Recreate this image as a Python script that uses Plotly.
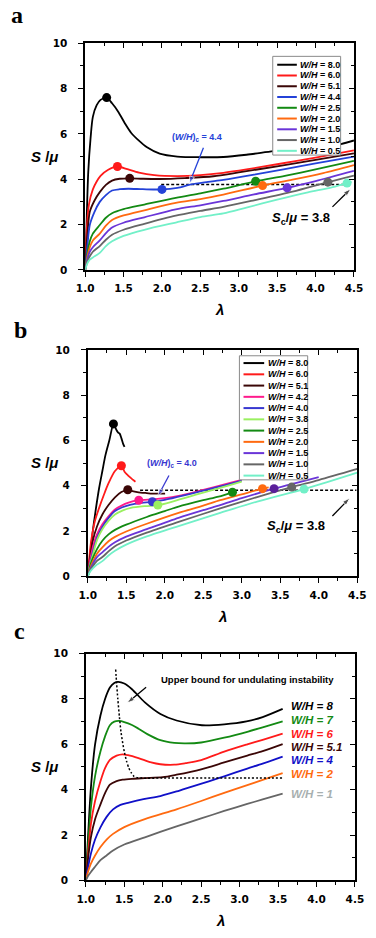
import plotly.graph_objects as go

W, H = 376, 938
FONT = "Liberation Sans, Arial, sans-serif"
TICK_FONT = "DejaVu Sans, sans-serif"
SERIF = "Liberation Serif, Times New Roman, serif"

# ---------------- panel a ----------------
A_LAM_80 = [1.00, 1.02, 1.04, 1.07, 1.10, 1.15, 1.20, 1.28, 1.35, 1.43, 1.52, 1.60, 1.70, 1.80, 1.97, 2.20, 2.50, 2.80, 3.10, 3.45, 3.80, 4.10, 4.33, 4.50]
A_S_80 = [0.05, 2.3, 4.3, 5.8, 6.75, 7.27, 7.5, 7.6, 7.35, 6.98, 6.45, 6.04, 5.7, 5.42, 5.13, 5.0, 4.97, 4.98, 5.08, 5.24, 5.37, 5.47, 5.55, 5.71]
A_LAM_60 = [1.00, 1.02, 1.05, 1.10, 1.15, 1.20, 1.30, 1.42, 1.55, 1.70, 1.90, 2.20, 2.50, 2.80, 3.10, 3.50, 4.00, 4.50]
A_S_60 = [0.0, 1.8, 2.9, 3.55, 3.9, 4.15, 4.42, 4.56, 4.44, 4.29, 4.18, 4.14, 4.18, 4.28, 4.43, 4.66, 4.95, 5.27]
A_LAM_51 = [1.00, 1.03, 1.06, 1.12, 1.19, 1.27, 1.35, 1.45, 1.58, 1.75, 1.97, 2.30, 2.67, 3.00, 3.50, 4.00, 4.50]
A_S_51 = [0.0, 1.6, 2.56, 3.05, 3.43, 3.75, 3.94, 4.02, 4.04, 4.02, 4.01, 4.05, 4.13, 4.3, 4.57, 4.85, 5.14]
A_LAM_44 = [1.00, 1.03, 1.06, 1.12, 1.19, 1.27, 1.35, 1.45, 1.56, 1.75, 2.00, 2.20, 2.38, 2.60, 2.80, 3.20, 3.60, 4.00, 4.50]
A_S_44 = [0.0, 1.1, 1.98, 2.55, 3.0, 3.3, 3.5, 3.56, 3.58, 3.56, 3.55, 3.62, 3.77, 3.88, 3.97, 4.2, 4.45, 4.7, 5.0]
A_LAM_25 = [1.00, 1.03, 1.06, 1.10, 1.19, 1.27, 1.35, 1.50, 1.77, 2.18, 2.50, 2.80, 3.22, 3.60, 4.00, 4.50]
A_S_25 = [0.0, 0.75, 1.26, 1.6, 1.98, 2.3, 2.5, 2.68, 2.88, 3.18, 3.38, 3.58, 3.91, 4.15, 4.43, 4.81]
A_LAM_20 = [1.00, 1.03, 1.06, 1.10, 1.19, 1.27, 1.35, 1.50, 1.77, 2.18, 2.50, 2.80, 3.31, 3.70, 4.10, 4.50]
A_S_20 = [0.0, 0.6, 1.0, 1.3, 1.6, 1.95, 2.2, 2.4, 2.63, 2.96, 3.12, 3.32, 3.72, 3.98, 4.27, 4.62]
A_LAM_15 = [1.00, 1.03, 1.06, 1.10, 1.19, 1.27, 1.35, 1.50, 1.77, 2.18, 2.50, 2.80, 3.20, 3.63, 4.00, 4.50]
A_S_15 = [0.0, 0.5, 0.8, 1.0, 1.3, 1.62, 1.87, 2.08, 2.32, 2.67, 2.85, 3.04, 3.33, 3.62, 3.92, 4.37]
A_LAM_10 = [1.00, 1.03, 1.06, 1.10, 1.19, 1.27, 1.35, 1.50, 1.77, 2.18, 2.50, 2.80, 3.20, 3.70, 4.16, 4.50]
A_S_10 = [0.0, 0.4, 0.6, 0.8, 1.05, 1.33, 1.55, 1.77, 2.03, 2.39, 2.6, 2.78, 3.07, 3.45, 3.87, 4.16]
A_LAM_05 = [1.00, 1.03, 1.06, 1.10, 1.19, 1.27, 1.35, 1.50, 1.77, 2.18, 2.50, 2.80, 3.10, 3.50, 3.90, 4.20, 4.41, 4.47]
A_S_05 = [0.0, 0.3, 0.45, 0.55, 0.75, 1.05, 1.26, 1.5, 1.77, 2.09, 2.33, 2.49, 2.75, 3.1, 3.42, 3.63, 3.83, 3.88]

A_LABELS = ["8.0", "6.0", "5.1", "4.4", "2.5", "2.0", "1.5", "1.0", "0.5"]
A_COLORS = ["#000000", "#ff1a1a", "#3a0606", "#2442d8", "#138a13", "#ff6a10", "#6a35d8", "#666666", "#72f0c8"]
A_LAM = [A_LAM_80, A_LAM_60, A_LAM_51, A_LAM_44, A_LAM_25, A_LAM_20, A_LAM_15, A_LAM_10, A_LAM_05]
A_S = [A_S_80, A_S_60, A_S_51, A_S_44, A_S_25, A_S_20, A_S_15, A_S_10, A_S_05]
A_DOT_LAM = [1.28, 1.42, 1.58, 2.0, 3.22, 3.31, 3.63, 4.16, 4.41]
A_DOT_S = [7.6, 4.56, 4.04, 3.55, 3.91, 3.72, 3.62, 3.87, 3.83]
A_CRIT_LAM = [1.99, 4.45]
A_CRIT_S = [3.77, 3.77]

# ---------------- panel b ----------------
B_LAM_80 = [1.0, 1.03, 1.066, 1.10, 1.148, 1.19, 1.23, 1.28, 1.334, 1.355, 1.375, 1.395, 1.415, 1.437, 1.46, 1.478]
B_S_80 = [0.0, 0.9, 2.0, 2.85, 3.9, 4.65, 5.35, 6.0, 6.73, 6.6, 6.45, 6.35, 6.3, 6.1, 5.85, 5.71]
B_LAM_60 = [1.0, 1.02, 1.045, 1.09, 1.148, 1.21, 1.27, 1.354, 1.437, 1.478, 1.51, 1.54, 1.58, 1.62]
B_S_60 = [0.0, 0.8, 1.57, 2.4, 3.02, 3.6, 4.11, 4.65, 4.88, 4.62, 4.5, 4.4, 4.28, 4.18]
B_LAM_51 = [1.0, 1.03, 1.066, 1.12, 1.19, 1.27, 1.354, 1.437, 1.52, 1.58, 1.643, 1.75, 1.85, 2.005]
B_S_51 = [0.0, 0.8, 1.57, 2.2, 2.73, 3.15, 3.49, 3.72, 3.82, 3.76, 3.72, 3.68, 3.65, 3.65]
B_LAM_42 = [1.0, 1.03, 1.066, 1.12, 1.19, 1.27, 1.354, 1.44, 1.52, 1.663, 1.85, 2.0, 2.18, 2.5, 2.8, 3.0]
B_S_42 = [0.0, 0.7, 1.28, 1.85, 2.3, 2.65, 2.95, 3.12, 3.24, 3.36, 3.4, 3.45, 3.55, 3.82, 4.08, 4.26]
B_LAM_40 = [1.0, 1.03, 1.066, 1.12, 1.19, 1.27, 1.354, 1.45, 1.56, 1.7, 1.84, 2.0, 2.18, 2.5, 2.8, 3.0]
B_S_40 = [0.0, 0.55, 1.05, 1.7, 2.18, 2.58, 2.88, 3.05, 3.17, 3.24, 3.29, 3.38, 3.52, 3.78, 4.04, 4.22]
B_LAM_38 = [1.0, 1.03, 1.066, 1.12, 1.19, 1.27, 1.354, 1.45, 1.56, 1.75, 1.91, 2.1, 2.3, 2.5, 2.8, 3.0]
B_S_38 = [0.0, 0.5, 0.95, 1.6, 2.08, 2.45, 2.73, 2.9, 3.02, 3.1, 3.14, 3.3, 3.5, 3.7, 3.98, 4.18]
B_LAM_25 = [1.0, 1.03, 1.066, 1.12, 1.19, 1.27, 1.354, 1.5, 1.767, 2.0, 2.18, 2.5, 2.7, 2.88]
B_S_25 = [0.0, 0.45, 0.8, 1.2, 1.57, 1.85, 2.05, 2.28, 2.62, 2.88, 3.08, 3.36, 3.52, 3.71]
B_LAM_20 = [1.0, 1.03, 1.066, 1.12, 1.19, 1.27, 1.354, 1.5, 1.767, 2.18, 2.5, 2.72, 3.0, 3.27, 3.35]
B_S_20 = [0.0, 0.35, 0.65, 1.0, 1.28, 1.55, 1.74, 1.98, 2.32, 2.8, 3.12, 3.36, 3.62, 3.87, 3.93]
B_LAM_15 = [1.0, 1.03, 1.066, 1.12, 1.19, 1.27, 1.354, 1.5, 1.767, 2.18, 2.5, 2.72, 3.0, 3.42, 3.7, 4.0]
B_S_15 = [0.0, 0.3, 0.55, 0.85, 1.06, 1.3, 1.5, 1.75, 2.08, 2.58, 2.92, 3.14, 3.45, 3.87, 4.12, 4.38]
B_LAM_10 = [1.0, 1.03, 1.066, 1.12, 1.19, 1.27, 1.354, 1.5, 1.767, 2.18, 2.72, 3.2, 3.65, 4.0, 4.5]
B_S_10 = [0.0, 0.25, 0.45, 0.68, 0.85, 1.1, 1.33, 1.58, 1.93, 2.4, 3.0, 3.5, 3.94, 4.25, 4.74]
B_LAM_05 = [1.0, 1.03, 1.066, 1.12, 1.19, 1.27, 1.354, 1.5, 1.767, 2.18, 2.72, 3.2, 3.81, 4.1, 4.5]
B_S_05 = [0.0, 0.2, 0.35, 0.52, 0.67, 0.92, 1.13, 1.4, 1.76, 2.22, 2.8, 3.3, 3.85, 4.15, 4.58]

B_LABELS = ["8.0", "6.0", "5.1", "4.2", "4.0", "3.8", "2.5", "2.0", "1.5", "1.0", "0.5"]
B_COLORS = ["#000000", "#ff1a1a", "#3a0606", "#ff1a8c", "#3838d0", "#9af060", "#138a13", "#ff6a10", "#6a35d8", "#666666", "#72f0c8"]
B_DOT_COLORS = ["#000000", "#ff1a1a", "#3a0606", "#ff1a8c", "#3838d0", "#9af060", "#138a13", "#ff6a10", "#5a1f9a", "#666666", "#72f0c8"]
B_LAM = [B_LAM_80, B_LAM_60, B_LAM_51, B_LAM_42, B_LAM_40, B_LAM_38, B_LAM_25, B_LAM_20, B_LAM_15, B_LAM_10, B_LAM_05]
B_S = [B_S_80, B_S_60, B_S_51, B_S_42, B_S_40, B_S_38, B_S_25, B_S_20, B_S_15, B_S_10, B_S_05]
B_DOT_LAM = [1.334, 1.437, 1.52, 1.663, 1.84, 1.91, 2.88, 3.27, 3.42, 3.65, 3.81]
B_DOT_S = [6.73, 4.88, 3.82, 3.36, 3.29, 3.15, 3.71, 3.87, 3.87, 3.94, 3.85]
B_CRIT_LAM = [1.68, 4.49]
B_CRIT_S = [3.8, 3.8]

# ---------------- panel c ----------------
C_LAM_8 = [1.0, 1.03, 1.066, 1.12, 1.19, 1.25, 1.313, 1.37, 1.416, 1.5, 1.6, 1.768, 1.97, 2.18, 2.51, 2.8, 3.09, 3.3, 3.56]
C_S_8 = [0.0, 2.0, 4.08, 6.0, 7.27, 8.0, 8.5, 8.7, 8.75, 8.68, 8.43, 7.85, 7.34, 7.05, 6.84, 6.88, 7.01, 7.2, 7.56]
C_LAM_7 = [1.0, 1.03, 1.066, 1.12, 1.19, 1.25, 1.313, 1.37, 1.437, 1.5, 1.6, 1.685, 1.8, 1.97, 2.15, 2.3, 2.5, 2.8, 3.1, 3.3, 3.56]
C_S_7 = [0.0, 1.6, 3.21, 4.6, 5.68, 6.35, 6.84, 7.0, 7.03, 6.98, 6.85, 6.69, 6.45, 6.18, 6.06, 6.04, 6.08, 6.29, 6.55, 6.75, 7.01]
C_LAM_6 = [1.0, 1.03, 1.066, 1.12, 1.19, 1.25, 1.313, 1.4, 1.478, 1.55, 1.685, 1.85, 1.97, 2.15, 2.3, 2.5, 2.8, 3.1, 3.3, 3.56]
C_S_6 = [0.0, 1.2, 2.48, 3.5, 4.37, 4.95, 5.31, 5.5, 5.56, 5.52, 5.39, 5.2, 5.12, 5.1, 5.17, 5.3, 5.68, 6.0, 6.2, 6.47]
C_LAM_51 = [1.0, 1.03, 1.066, 1.12, 1.19, 1.25, 1.313, 1.4, 1.478, 1.6, 1.768, 2.0, 2.18, 2.5, 2.8, 3.1, 3.3, 3.56]
C_S_51 = [0.0, 1.0, 1.9, 2.7, 3.35, 3.85, 4.22, 4.38, 4.44, 4.48, 4.51, 4.55, 4.66, 4.9, 5.2, 5.5, 5.7, 6.01]
C_LAM_4 = [1.0, 1.03, 1.066, 1.12, 1.19, 1.27, 1.354, 1.45, 1.56, 1.75, 1.97, 2.18, 2.39, 2.6, 2.8, 3.1, 3.3, 3.56]
C_S_4 = [0.0, 0.6, 1.18, 1.8, 2.34, 2.8, 3.13, 3.33, 3.43, 3.58, 3.72, 3.92, 4.15, 4.37, 4.59, 4.93, 5.15, 5.46]
C_LAM_2 = [1.0, 1.03, 1.066, 1.12, 1.19, 1.27, 1.354, 1.5, 1.768, 2.18, 2.5, 2.8, 3.1, 3.3, 3.56]
C_S_2 = [0.0, 0.4, 0.74, 1.1, 1.47, 1.8, 2.05, 2.35, 2.7, 3.13, 3.5, 3.86, 4.2, 4.43, 4.73]
C_LAM_1 = [1.0, 1.03, 1.066, 1.12, 1.19, 1.27, 1.354, 1.5, 1.768, 2.18, 2.5, 2.8, 3.1, 3.3, 3.56]
C_S_1 = [0.0, 0.2, 0.37, 0.6, 0.89, 1.1, 1.32, 1.58, 1.9, 2.38, 2.73, 3.06, 3.37, 3.57, 3.83]

C_LABELS = ["8", "7", "6", "5.1", "4", "2", "1"]
C_COLORS = ["#000000", "#138a13", "#ff1a1a", "#3a0606", "#1010c8", "#ff6a10", "#666666"]
C_TEXT_COLORS = ["#000000", "#138a13", "#ff1a1a", "#3a0606", "#1010c8", "#ff6a10", "#a8b0b0"]
C_LAM = [C_LAM_8, C_LAM_7, C_LAM_6, C_LAM_51, C_LAM_4, C_LAM_2, C_LAM_1]
C_S = [C_S_8, C_S_7, C_S_6, C_S_51, C_S_4, C_S_2, C_S_1]
C_LABEL_S = [7.68, 7.08, 6.47, 5.89, 5.31, 4.69, 3.83]
C_BOUND_LAM = [1.388, 1.40, 1.416, 1.437, 1.457, 1.48, 1.50, 1.53, 1.56, 1.59, 1.623, 1.67, 1.726, 2.0, 3.0, 3.58]
C_BOUND_S = [9.3, 8.7, 8.0, 7.2, 6.55, 6.05, 5.68, 5.25, 4.95, 4.75, 4.6, 4.53, 4.51, 4.51, 4.51, 4.51]

X_TICKS = [1.0, 1.5, 2.0, 2.5, 3.0, 3.5, 4.0, 4.5]
Y_TICKS = [0, 2, 4, 6, 8, 10]


def fx(x):
    return x / W


def fy(y):
    return 1 - y / H


fig = go.Figure()

# pixel frames of the three plot areas (left, top, right, bottom)
FRAMES = [(80, 37.7, 362.3, 267.3), (82.7, 348.3, 365.7, 577.7), (80.7, 656, 363.3, 885.7)]

for i, (l, t, r, b) in enumerate(FRAMES):
    n = "" if i == 0 else str(i + 1)
    o = str(i + 4)
    tickfont = dict(family=TICK_FONT, size=10.5, color="black", weight="bold")
    fig.update_layout(**{
        "xaxis" + n: dict(
            domain=[fx(l), fx(r)], anchor="y" + n, range=[1, 4.5],
            tickvals=X_TICKS, ticktext=[f"{v:.1f}" for v in X_TICKS],
            ticks="outside", ticklen=5, tickwidth=1.3, tickcolor="black",
            minor=dict(dtick=0.25, tick0=1, ticks="outside", ticklen=3, tickwidth=1.2, tickcolor="black"),
            showline=True, linewidth=1.5, linecolor="black", mirror=True,
            showgrid=False, zeroline=False, tickfont=tickfont, ticklabelstandoff=3,
        ),
        "yaxis" + n: dict(
            domain=[fy(b), fy(t)], anchor="x" + n, range=[0, 10],
            tickvals=Y_TICKS, ticks="outside", ticklen=5, tickwidth=1.3, tickcolor="black",
            minor=dict(dtick=1, tick0=0, ticks="outside", ticklen=3, tickwidth=1.2, tickcolor="black"),
            showline=True, linewidth=1.5, linecolor="black", mirror=True,
            showgrid=False, zeroline=False, tickfont=tickfont, ticklabelstandoff=9,
        ),
        # inward ticks on the top and right edges
        "xaxis" + o: dict(
            overlaying="x" + n, anchor="y" + n, side="top", range=[1, 4.5],
            tickvals=X_TICKS, ticks="inside", ticklen=5, tickwidth=1.3, tickcolor="black",
            minor=dict(dtick=0.25, tick0=1, ticks="inside", ticklen=3, tickwidth=1.2, tickcolor="black"),
            showticklabels=False, showgrid=False, zeroline=False, showline=False,
        ),
        "yaxis" + o: dict(
            overlaying="y" + n, anchor="x" + n, side="right", range=[0, 10],
            tickvals=Y_TICKS, ticks="inside", ticklen=5, tickwidth=1.3, tickcolor="black",
            minor=dict(dtick=1, tick0=0, ticks="inside", ticklen=3, tickwidth=1.2, tickcolor="black"),
            showticklabels=False, showgrid=False, zeroline=False, showline=False,
        ),
    })
    fig.add_trace(go.Scatter(x=[], y=[], xaxis="x" + o, yaxis="y" + o, showlegend=False))


def add_curves(lams, svals, colors, xa, ya):
    for lam, s, c in zip(lams, svals, colors):
        fig.add_trace(go.Scatter(
            x=lam, y=s, mode="lines", xaxis=xa, yaxis=ya,
            line=dict(color=c, width=1.8, shape="spline", smoothing=0.8),
            showlegend=False, hoverinfo="skip",
        ))


def add_dots(lams, svals, colors, xa, ya):
    fig.add_trace(go.Scatter(
        x=lams, y=svals, mode="markers", xaxis=xa, yaxis=ya,
        marker=dict(color=colors, size=9, line=dict(width=0)),
        showlegend=False, hoverinfo="skip",
    ))


def arrow(xa, ya, x, y, ax, ay, color="black"):
    # shaft from (ax, ay) to the tip (x, y), head drawn as an arrow marker
    fig.add_trace(go.Scatter(
        x=[ax, x], y=[ay, y], mode="lines+markers", xaxis=xa, yaxis=ya,
        line=dict(color=color, width=1.3),
        marker=dict(symbol="arrow", size=[0, 8], angleref="previous", color=color),
        showlegend=False, hoverinfo="skip",
    ))


# panel a
fig.add_trace(go.Scatter(x=A_CRIT_LAM, y=A_CRIT_S, mode="lines", xaxis="x", yaxis="y",
                         line=dict(color="black", width=1.5, dash="3px,2px"), showlegend=False))
add_curves(A_LAM, A_S, A_COLORS, "x", "y")
add_dots(A_DOT_LAM, A_DOT_S, A_COLORS, "x", "y")
arrow("x", "y", 2.355, 3.80, 2.54, 5.39, "#2442d8")
arrow("x", "y", 4.46, 3.58, 4.22, 2.78)

# panel b
fig.add_trace(go.Scatter(x=B_CRIT_LAM, y=B_CRIT_S, mode="lines", xaxis="x2", yaxis="y2",
                         line=dict(color="black", width=1.5, dash="3px,2px"), showlegend=False))
add_curves(B_LAM, B_S, B_COLORS, "x2", "y2")
add_dots(B_DOT_LAM, B_DOT_S, B_DOT_COLORS, "x2", "y2")
arrow("x2", "y2", 1.91, 3.53, 2.055, 4.45, "#3838d0")
arrow("x2", "y2", 4.405, 3.46, 4.178, 2.66)

# panel c
add_curves(C_LAM, C_S, C_COLORS, "x3", "y3")
fig.add_trace(go.Scatter(x=C_BOUND_LAM, y=C_BOUND_S, mode="lines", xaxis="x3", yaxis="y3",
                         line=dict(color="black", width=1.5, dash="2px,2px", shape="spline", smoothing=0.6),
                         showlegend=False))
arrow("x3", "y3", 1.536, 7.82, 1.784, 8.52)

annotations = []
shapes = []


# hand-drawn legends (plotly's own legend rows are too tall for this size)
def add_legend(labels, colors, box, y0, dy, line_x, text_x):
    shapes.append(dict(type="rect", xref="paper", yref="paper",
                       x0=fx(box[0]), x1=fx(box[2]), y0=fy(box[3]), y1=fy(box[1]),
                       line=dict(color="#8a8a8a", width=1), fillcolor="white", layer="above"))
    for k, (lab, c) in enumerate(zip(labels, colors)):
        yy = fy(y0 + k * dy)
        shapes.append(dict(type="line", xref="paper", yref="paper",
                           x0=fx(line_x[0]), x1=fx(line_x[1]), y0=yy, y1=yy,
                           line=dict(color=c, width=2), layer="above"))
        annotations.append(dict(xref="paper", yref="paper", x=fx(text_x), y=yy,
                                xanchor="left", yanchor="middle", showarrow=False,
                                text=f"<i>W/H</i> = {lab}",
                                font=dict(family=FONT, size=9, color="black", weight="bold")))


add_legend(A_LABELS, A_COLORS, (277, 51, 348.3, 151), 59.5, 10.9, (281.7, 302.3), 303.5)
add_legend(B_LABELS, B_COLORS, (242, 354.3, 313.7, 480), 361.7, 11.4, (246.3, 268), 269.5)


def label(xa, ya, x, y, text, size, color="black", anchor="center"):
    annotations.append(dict(xref=xa, yref=ya, x=x, y=y, text=text, showarrow=False,
                            xanchor=anchor, yanchor="middle",
                            font=dict(family=FONT, size=size, color=color, weight="bold")))


label("x", "y", 2.45, 5.84, "(<i>W/H</i>)<sub>c</sub> = 4.4", 9, "#2442d8")
label("x", "y", 3.81, 2.27, "<i>S</i><sub>c</sub>/<i>μ</i> = 3.8", 13)
label("x2", "y2", 2.09, 5.0, "(<i>W/H</i>)<sub>c</sub> = 4.0", 9, "#3838d0")
label("x2", "y2", 3.70, 2.21, "<i>S</i><sub>c</sub>/<i>μ</i> = 3.8", 13)
label("x3", "y3", 3.10, 8.84, "Upper bound for undulating instability", 9.5)
for lab, c, s in zip(C_LABELS, C_TEXT_COLORS, C_LABEL_S):
    label("x3", "y3", 3.64, s, f"<i>W/H = {lab}</i>", 11.5, c, anchor="left")

# panel letters and axis titles
for letter, (lx, ly) in zip(["a", "b", "c"], [(8, 9), (12, 328), (11, 633)]):
    annotations.append(dict(xref="paper", yref="paper", x=fx(lx), y=fy(ly), text=letter,
                            showarrow=False, xanchor="center", yanchor="middle",
                            font=dict(family=SERIF, size=24, color="black", weight="bold")))
for (l, t, r, b), lam_y, s_y in zip(FRAMES, [307, 618, 926], [152, 462, 770]):
    annotations.append(dict(xref="paper", yref="paper", x=fx((l + r) / 2), y=fy(lam_y),
                            text="<i>λ</i>", showarrow=False, xanchor="center", yanchor="middle",
                            font=dict(family=FONT, size=15, color="black", weight="bold")))
    annotations.append(dict(xref="paper", yref="paper", x=fx(37), y=fy(s_y),
                            text="<i>S</i> /<i>μ</i>", showarrow=False, xanchor="center", yanchor="middle",
                            font=dict(family=FONT, size=15, color="black", weight="bold")))

fig.update_layout(
    width=W, height=H,
    margin=dict(l=0, r=0, t=0, b=0),
    plot_bgcolor="white", paper_bgcolor="white",
    showlegend=False,
    annotations=annotations,
    shapes=shapes,
)

# the page's default body margin would push the figure off its 376x938 frame
fig.write_html("out.html", config={"displayModeBar": False},
               post_script="document.body.style.margin='0px';")
